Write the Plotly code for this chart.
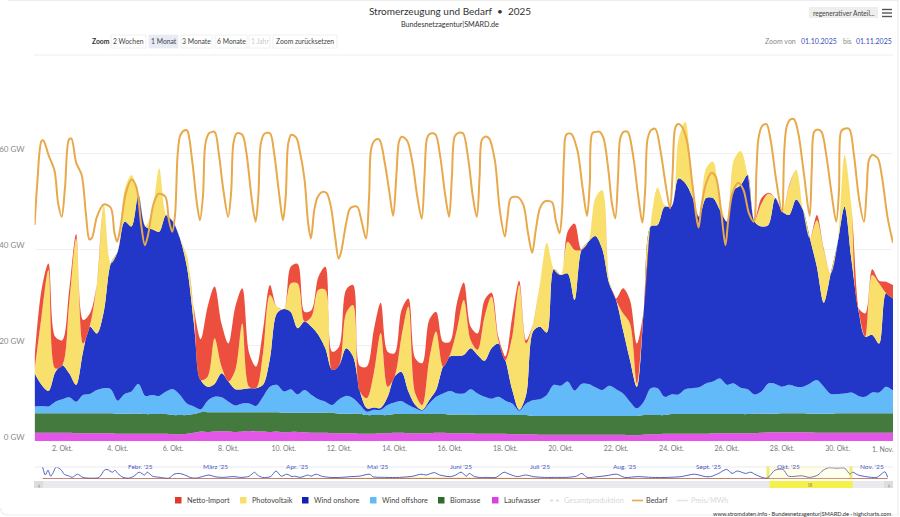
import pandas as pd
import plotly.graph_objects as go

FONT = "Lato"
W, H = 900, 517

# values, GW, one row per day at 00, 06, 12, 18 h
laufwasser = [
    1.7, 1.7, 1.7, 1.7, 1.7, 1.7, 1.6, 1.6, 1.6, 1.6, 1.6, 1.6, 1.5, 1.5, 1.5, 1.5,
    1.5, 1.5, 1.5, 1.5, 1.4, 1.4, 1.5, 1.7, 2.0, 1.9, 2.0, 2.0, 2.0, 1.9, 2.0, 2.1,
    2.0, 2.0, 1.9, 2.0, 1.8, 1.9, 1.9, 1.8, 1.7, 1.7, 1.7, 1.6, 1.6, 1.6, 1.6, 1.5,
    1.5, 1.5, 1.6, 1.6, 1.7, 1.7, 1.6, 1.6, 1.6, 1.6, 1.7, 1.7, 1.6, 1.6, 1.6, 1.6,
    1.5, 1.5, 1.5, 1.5, 1.5, 1.4, 1.4, 1.4, 1.4, 1.3, 1.3, 1.3, 1.3, 1.3, 1.3, 1.3,
    1.3, 1.3, 1.3, 1.3, 1.3, 1.3, 1.2, 1.2, 1.3, 1.4, 1.4, 1.5, 1.5, 1.5, 1.5, 1.5,
    1.5, 1.5, 1.6, 1.6, 1.6, 1.6, 1.6, 1.6, 1.6, 1.7, 1.8, 1.8, 1.8, 1.8, 1.8, 1.8,
    1.8, 1.7, 1.7, 1.7, 1.7, 1.7, 1.7, 1.7, 1.7, 1.7, 1.7, 1.7, 1.7,
]
biomasse = [
    4.1, 4.1, 4.1, 4.1, 4.1, 4.1, 4.2, 4.2, 4.2, 4.2, 4.2, 4.2, 4.2, 4.2, 4.2, 4.2,
    4.1, 4.1, 4.1, 4.1, 4.0, 4.0, 3.9, 3.9, 4.0, 4.1, 4.0, 4.0, 4.0, 4.1, 4.0, 3.9,
    4.0, 4.0, 4.1, 4.0, 4.1, 4.0, 4.0, 4.1, 4.2, 4.2, 4.2, 4.3, 4.1, 4.1, 4.1, 4.2,
    3.9, 3.9, 3.8, 3.8, 3.9, 3.9, 4.0, 4.0, 4.0, 4.0, 3.9, 3.9, 3.9, 3.9, 3.9, 3.9,
    3.9, 3.9, 3.9, 3.9, 3.9, 4.0, 4.0, 4.0, 3.8, 3.9, 3.9, 3.9, 3.9, 3.9, 3.9, 3.9,
    3.9, 3.9, 3.9, 3.9, 3.9, 3.9, 4.0, 4.0, 4.1, 4.0, 4.0, 3.9, 4.1, 4.1, 4.1, 4.1,
    4.1, 4.1, 4.0, 4.0, 4.0, 4.0, 4.0, 4.0, 4.1, 4.0, 3.9, 3.9, 4.0, 4.0, 4.0, 4.0,
    3.9, 4.0, 4.0, 4.0, 4.1, 4.1, 4.1, 4.1, 4.1, 4.1, 4.1, 4.1, 4.1,
]
wind_offshore = [
    1.4, 1.5, 1.4, 2.4, 2.9, 3.3, 2.4, 3.8, 4.0, 4.8, 5.2, 5.0, 2.7, 4.1, 4.6, 6.2,
    3.8, 4.0, 3.8, 4.7, 5.4, 4.2, 2.4, 1.6, 0.6, 2.4, 3.2, 3.1, 2.2, 1.4, 1.8, 1.8,
    1.3, 3.2, 5.3, 5.7, 4.4, 4.9, 3.8, 4.7, 3.7, 2.8, 2.3, 1.6, 3.0, 3.7, 3.2, 1.8,
    0.7, 1.1, 1.1, 2.1, 2.4, 2.7, 1.9, 1.2, 0.7, 2.2, 3.6, 4.3, 4.9, 4.4, 4.4, 5.3,
    4.5, 3.8, 3.4, 3.8, 3.0, 2.4, 0.9, 2.4, 3.3, 3.5, 4.4, 6.5, 6.3, 7.2, 5.3, 6.7,
    6.7, 6.0, 5.4, 6.3, 5.6, 4.7, 3.0, 1.6, 2.8, 5.6, 5.6, 3.8, 4.1, 4.1, 5.2, 5.4,
    5.6, 6.4, 6.8, 7.4, 6.1, 6.4, 5.5, 5.2, 4.0, 4.6, 6.3, 6.2, 5.5, 5.9, 5.5, 5.5,
    6.3, 7.0, 5.6, 4.1, 4.0, 4.1, 4.3, 3.6, 3.4, 4.3, 4.3, 5.5, 4.7,
]
wind_onshore = [
    6.9, 4.4, 3.2, 6.2, 7.1, 5.0, 3.5, 9.0, 14.0, 11.8, 16.0, 26.2, 31.0, 35.9, 34.4, 39.4,
    35.3, 34.5, 34.2, 36.8, 34.9, 32.6, 28.5, 17.5, 6.1, 2.9, 2.7, 5.0, 4.2, 3.4, 3.0, 3.2,
    3.7, 2.5, 5.9, 14.9, 17.2, 16.1, 13.8, 14.3, 14.2, 13.4, 11.1, 7.3, 7.1, 9.9, 8.7, 2.8,
    0.7, 0.5, 0.4, 1.7, 5.4, 6.1, 2.8, 0.7, 0.2, 0.7, 1.4, 5.6, 7.2, 7.8, 8.0, 8.5,
    8.0, 7.5, 10.5, 11.1, 8.5, 2.8, 0.2, 1.8, 14.3, 15.1, 13.0, 24.1, 23.1, 22.5, 18.9, 27.9,
    29.6, 31.5, 29.4, 21.3, 18.6, 13.2, 8.7, 4.5, 19.1, 33.7, 34.0, 39.6, 39.1, 45.0, 42.9, 39.9,
    35.5, 38.6, 38.2, 35.1, 34.0, 40.3, 42.2, 44.6, 36.0, 34.4, 33.0, 38.7, 36.5, 35.4, 39.0, 36.8,
    30.2, 23.6, 17.5, 25.1, 31.4, 38.9, 27.6, 17.9, 12.5, 12.0, 10.2, 19.5, 19.2,
]
photovoltaik = [
    0.7, 14.2, 25.2, 0.7, 0.0, 14.6, 30.5, 1.7, 0.3, 10.4, 22.2, 0.0, 0.0, 6.6, 10.7, 0.0,
    0.0, 4.0, 13.2, 0.0, 0.0, 0.0, 2.1, 2.5, 0.0, 2.1, 9.5, 1.4, 0.0, 4.0, 13.7, 0.3,
    0.0, 6.6, 13.2, 1.4, 0.0, 5.9, 9.3, 0.0, 2.1, 9.4, 12.2, 0.0, 0.0, 7.3, 10.7, 0.0,
    2.1, 7.1, 15.6, 2.1, 0.0, 7.3, 17.7, 2.4, 1.0, 8.4, 12.2, 0.0, 0.3, 5.4, 11.5, 1.7,
    1.1, 9.2, 10.8, 0.7, 0.0, 11.1, 26.0, 10.7, 1.7, 9.0, 18.7, 0.0, 0.0, 6.6, 10.4, 0.0,
    0.0, 7.9, 12.3, 0.7, 0.0, 3.5, 7.6, 0.7, 0.0, 0.6, 7.8, 0.4, 0.0, 8.0, 12.8, 2.8,
    0.0, 6.2, 7.6, 2.0, 0.0, 6.2, 7.1, 0.0, 0.3, 4.8, 6.5, 0.0, 0.3, 5.9, 6.2, 0.0,
    0.0, 9.7, 11.0, 0.0, 0.0, 10.8, 11.1, 0.3, 0.0, 12.5, 12.5, 0.0, 0.0,
]
netto_import = [
    2.8, 5.6, 1.4, 6.6, 5.2, 2.8, 0.9, 4.9, 2.5, 0.0, 0.0, 0.0, 0.0, 0.0, 0.0, 0.0,
    0.0, 0.0, 0.0, 0.0, 0.0, 0.0, 0.1, 0.5, 8.5, 14.6, 10.8, 9.0, 7.9, 13.2, 7.3, 7.0,
    4.5, 4.8, 2.1, 0.0, 0.0, 3.5, 4.1, 2.0, 1.4, 2.7, 4.8, 3.8, 3.9, 4.9, 4.2, 5.3,
    6.6, 9.0, 6.3, 7.3, 4.9, 5.6, 1.7, 7.3, 8.7, 8.3, 4.1, 5.2, 2.8, 5.6, 3.6, 2.8,
    3.4, 3.5, 0.8, 0.7, 0.7, 4.2, 0.9, 0.7, 0.0, 0.0, 0.0, 0.0, 0.0, 2.1, 5.5, 0.0,
    0.0, 0.0, 0.0, 0.0, 0.3, 5.2, 4.9, 8.3, 0.0, 0.0, 0.0, 0.0, 0.0, 0.0, 0.0, 0.0,
    0.0, 0.0, 0.0, 0.0, 0.0, 0.0, 0.0, 0.0, 0.0, 1.1, 0.2, 0.0, 0.0, 0.3, 0.0, 0.0,
    0.0, 1.1, 0.3, 0.0, 0.0, 0.0, 0.0, 0.2, 4.9, 1.2, 0.6, 2.4, 2.8,
]

# demand has its own knots, days since 1 Oct
bedarf_tage = [
    0.0, 0.1, 0.25, 0.32, 0.5, 0.72, 0.85, 0.98, 1.1, 1.24, 1.33, 1.5, 1.7, 1.85, 1.98,
    2.07, 2.25, 2.5, 2.75, 2.88, 2.98, 3.1, 3.3, 3.5, 3.67, 3.85, 3.98, 4.1, 4.3, 4.48,
    4.72, 4.85, 4.97, 5.07, 5.17, 5.27, 5.45, 5.52, 5.7, 5.85, 5.97, 6.08, 6.17, 6.3, 6.5,
    6.65, 6.8, 6.99, 7.1, 7.18, 7.3, 7.5, 7.65, 7.85, 7.98, 8.08, 8.17, 8.3, 8.5, 8.65,
    8.82, 8.97, 9.07, 9.16, 9.27, 9.45, 9.58, 9.75, 9.88, 9.98, 10.1, 10.22, 10.4, 10.55, 10.7,
    10.85, 10.98, 11.07, 11.25, 11.4, 11.65, 11.8, 11.97, 12.08, 12.16, 12.3, 12.45, 12.65, 12.8, 12.95,
    13.07, 13.16, 13.26, 13.45, 13.65, 13.82, 13.98, 14.08, 14.17, 14.27, 14.47, 14.65, 14.82, 14.97, 15.07,
    15.17, 15.3, 15.47, 15.65, 15.82, 15.97, 16.07, 16.15, 16.27, 16.42, 16.62, 16.8, 16.98, 17.08, 17.2,
    17.45, 17.65, 17.82, 17.97, 18.1, 18.25, 18.42, 18.68, 18.82, 18.96, 19.05, 19.12, 19.2, 19.38, 19.6,
    19.8, 19.95, 20.05, 20.14, 20.27, 20.41, 20.55, 20.72, 20.85, 20.97, 21.07, 21.15, 21.27, 21.42, 21.6,
    21.8, 21.95, 22.05, 22.14, 22.27, 22.42, 22.6, 22.8, 22.95, 23.04, 23.13, 23.22, 23.35, 23.55, 23.75,
    23.9, 23.98, 24.08, 24.25, 24.45, 24.6, 24.8, 24.95, 25.05, 25.2, 25.42, 25.6, 25.8, 25.97, 26.07,
    26.14, 26.27, 26.43, 26.58, 26.78, 26.99, 27.07, 27.16, 27.3, 27.43, 27.58, 27.78, 27.99, 28.07, 28.15,
    28.28, 28.42, 28.6, 28.78, 28.95, 29.05, 29.12, 29.22, 29.42, 29.58, 29.78, 29.95, 30.05, 30.13, 30.25,
    30.45, 30.6, 30.8, 31.0,
]
bedarf = [
    45.0, 54.0, 62.5, 62.6, 59.6, 56.3, 49.5, 46.7, 53.0, 62.8, 63.0, 58.0, 55.4, 47.5, 42.0,
    42.3, 46.7, 49.3, 48.6, 43.5, 41.5, 44.5, 51.8, 54.5, 53.0, 45.0, 40.8, 43.0, 49.5, 51.5,
    50.9, 46.0, 43.6, 47.0, 60.0, 63.8, 64.8, 64.6, 58.0, 50.0, 46.0, 51.0, 62.0, 64.1, 64.4,
    60.0, 53.0, 46.7, 52.0, 62.0, 64.1, 63.8, 60.0, 50.0, 45.7, 51.0, 62.0, 64.0, 64.1, 60.0,
    52.0, 46.0, 51.0, 62.0, 63.8, 63.2, 60.3, 54.4, 45.3, 42.2, 48.1, 50.8, 51.9, 51.6, 48.8,
    42.6, 38.0, 39.4, 45.3, 48.5, 48.8, 46.0, 42.2, 50.9, 61.0, 62.7, 62.8, 57.8, 52.3, 46.9,
    55.8, 62.4, 63.4, 62.6, 57.8, 50.9, 46.3, 55.0, 63.0, 64.0, 63.9, 59.2, 51.6, 46.7, 55.0,
    63.4, 64.2, 64.1, 59.2, 51.2, 46.7, 55.0, 62.7, 63.4, 63.0, 58.5, 48.1, 42.6, 46.7, 50.6,
    50.8, 49.2, 43.3, 39.2, 44.0, 48.5, 49.9, 49.8, 46.0, 43.3, 48.1, 59.2, 63.8, 64.0, 60.6,
    52.3, 46.9, 53.7, 64.1, 64.4, 64.4, 63.0, 56.5, 49.5, 46.4, 55.0, 63.0, 64.4, 64.4, 60.0,
    50.9, 45.5, 52.3, 63.0, 64.8, 65.0, 60.6, 53.0, 48.5, 55.8, 65.1, 66.0, 65.7, 62.7, 53.7,
    46.7, 44.5, 48.8, 53.7, 55.9, 55.0, 47.4, 40.8, 46.0, 51.6, 53.8, 52.3, 47.4, 45.7, 56.5,
    63.0, 65.6, 66.0, 62.7, 54.4, 47.8, 60.0, 65.5, 67.0, 67.0, 64.1, 55.8, 46.9, 57.2, 64.4,
    64.9, 64.4, 59.2, 51.6, 45.7, 52.3, 64.4, 65.0, 65.0, 60.0, 50.2, 45.7, 52.3, 58.5, 59.6,
    58.9, 55.1, 46.7, 41.3,
]

# navigator overview, days since 1 Jan
nav_tage = [
    2, 3, 4, 5, 6, 7, 9, 10, 12, 13, 15, 17, 20, 23, 25, 26, 28, 29, 30, 32,
    34, 36, 38, 40, 41, 43, 46, 49, 51, 53, 55, 57, 59, 62, 64, 66, 69, 73, 76, 79,
    81, 82, 84, 87, 89, 91, 93, 95, 96, 98, 101, 102, 104, 106, 109, 113, 117, 120, 124, 125,
    130, 135, 140, 143, 145, 148, 150, 154, 156, 158, 160, 161, 163, 165, 168, 171, 174, 176, 179, 182,
    185, 189, 194, 197, 201, 203, 205, 209, 212, 216, 219, 224, 229, 235, 240, 245, 249, 251, 254, 257,
    259, 261, 264, 266, 268, 272, 275, 278, 280, 285, 288, 291, 293, 295, 298, 301, 303, 304, 306, 311,
    313, 316, 317,
]
nav_wind = [
    60, 20, 44, 14, 34, 60, 44, 24, 14, 8, 24, 8, 4, 8, 44, 48, 34, 44, 28, 8,
    4, 14, 34, 20, 34, 14, 8, 4, 24, 28, 20, 8, 4, 14, 20, 12, 8, 12, 8, 14,
    34, 20, 8, 12, 40, 14, 24, 12, 14, 8, 20, 14, 24, 14, 8, 8, 12, 14, 24, 12,
    8, 8, 14, 24, 20, 32, 20, 12, 20, 34, 14, 28, 12, 8, 8, 8, 34, 24, 12, 20,
    12, 8, 8, 8, 14, 28, 8, 12, 16, 24, 8, 12, 8, 8, 12, 24, 12, 12, 28, 48,
    28, 40, 28, 34, 20, 4, 44, 48, 14, 16, 8, 20, 44, 56, 54, 54, 24, 34, 20, 8,
    8, 36, 8,
]
nav_pv_tage = [90, 120, 140, 170, 200, 240, 260]
nav_pv = [3, 6, 9, 7, 6, 6, 3]
nav_basis_tage = [2, 317]
nav_basis = [1, 1]

tick_tage = ["2. Okt.", "4. Okt.", "6. Okt.", "8. Okt.", "10. Okt.", "12. Okt.", "14. Okt.", "16. Okt.",
             "18. Okt.", "20. Okt.", "22. Okt.", "24. Okt.", "26. Okt.", "28. Okt.", "30. Okt."]
monate = [("2025-02-01", "Febr. '25"), ("2025-03-01", "März '25"), ("2025-04-01", "Apr. '25"),
          ("2025-05-01", "Mai '25"), ("2025-06-01", "Juni '25"), ("2025-07-01", "Juli '25"),
          ("2025-08-01", "Aug. '25"), ("2025-09-01", "Sept. '25"), ("2025-10-01", "Okt. '25"),
          ("2025-11-01", "Nov. '25")]
zoom_buttons = [("2 Wochen", 111, 146), ("1 Monat", 149, 178), ("3 Monate", 181, 212),
                ("6 Monate", 215, 247), ("1 Jahr", 249, 270), ("Zoom zurücksetzen", 273, 337)]
legend_eintraege = [("Netto-Import", 175, "box", "#E03A2E"), ("Photovoltaik", 240, "box", "#F8E06A"),
                    ("Wind onshore", 302, "box", "#1520B0"), ("Wind offshore", 370, "box", "#62BBF8"),
                    ("Biomasse", 438, "box", "#2F6B2A"), ("Laufwasser", 492, "box", "#DD40E0"),
                    ("Gesamtproduktion", 550, "dots", "#DDDDDD"), ("Bedarf", 632, "line", "#E8A94A"),
                    ("Preis/MWh", 677, "line", "#E4E4E4")]

okt = pd.Timestamp("2025-10-01")
jan = pd.Timestamp("2025-01-01")
zeit = [okt + pd.Timedelta(hours=6 * i) for i in range(len(laufwasser))]
ticks = [okt + pd.Timedelta(days=1 + 2 * i) for i in range(len(tick_tage))]


def days(start, values):
    return [start + pd.Timedelta(days=v) for v in values]


def px(x):
    return x / W


def py(y):
    return 1 - y / H


fig = go.Figure()

stack = [
    ("Laufwasser", laufwasser, "#E356E8"),
    ("Biomasse", biomasse, "#457A3E"),
    ("Wind offshore", wind_offshore, "#62BBF8"),
    ("Wind onshore", wind_onshore, "#2236C8"),
    ("Photovoltaik", photovoltaik, "#F9E06C"),
    ("Netto-Import", netto_import, "#EC4F3E"),
]
for name, values, color in stack:
    fig.add_trace(go.Scatter(
        x=zeit, y=values, name=name, stackgroup="strom", mode="lines",
        line=dict(width=0, color=color, shape="spline", smoothing=0.9),
        fillcolor=color, showlegend=False,
    ))

fig.add_trace(go.Scatter(
    x=days(okt, bedarf_tage), y=bedarf, name="Bedarf", mode="lines",
    line=dict(width=2, color="#E8A94A", shape="spline", smoothing=0.9), showlegend=False,
))

# navigator
fig.add_trace(go.Scatter(
    x=days(jan, nav_pv_tage), y=nav_pv, xaxis="x2", yaxis="y2", mode="lines", showlegend=False,
    line=dict(width=0.5, color="#FBEFB0"), fill="tozeroy", fillcolor="#FBEFB0", hoverinfo="skip",
))
fig.add_trace(go.Scatter(
    x=days(jan, nav_tage), y=nav_wind, xaxis="x2", yaxis="y2", mode="lines", showlegend=False,
    line=dict(width=1, color="#5661C4", shape="spline", smoothing=0.8), hoverinfo="skip",
))
fig.add_trace(go.Scatter(
    x=days(jan, nav_basis_tage), y=nav_basis, xaxis="x2", yaxis="y2", mode="lines", showlegend=False,
    line=dict(width=1, color="#A8503C"), hoverinfo="skip",
))

annotations = []


def label(x, y, text, size=8, color="#555555", anchor="center", **kw):
    annotations.append(dict(
        x=px(x), y=py(y), xref="paper", yref="paper", text=text, showarrow=False,
        xanchor=anchor, yanchor="middle", font=dict(family=FONT, size=size, color=color),
        borderpad=0, **kw,
    ))


shapes = []


def rect(x0, y0, x1, y1, fill, line="rgba(0,0,0,0)", width=0):
    shapes.append(dict(type="rect", xref="paper", yref="paper", x0=px(x0), x1=px(x1), y0=py(y0), y1=py(y1),
                       fillcolor=fill, line=dict(color=line, width=width), layer="below"))


def hline(x0, x1, y, color, width=1, dash="solid"):
    shapes.append(dict(type="line", xref="paper", yref="paper", x0=px(x0), x1=px(x1), y0=py(y), y1=py(y),
                       line=dict(color=color, width=width, dash=dash)))


# header
label(450, 24, "Bundesnetzagentur|SMARD.de", size=7.2, color="#333333")
label(91, 41, "<b>Zoom</b>", size=6.8, color="#333333", anchor="left")
for text, x0, x1 in zoom_buttons:
    selected = text == "1 Monat"
    disabled = text == "1 Jahr"
    rect(x0, 35, x1, 48, "#E6EBF5" if selected else "#FFFFFF", "#ECECEC", 0.8)
    label((x0 + x1) / 2, 41.5, text, size=6.8, color="#CCCCCC" if disabled else "#444444")
label(764, 41, "Zoom von", size=7, color="#888888", anchor="left")
label(800, 41, "01.10.2025", size=7, color="#3A50B8", anchor="left")
label(842, 41, "bis", size=7, color="#888888", anchor="left")
label(855, 41, "01.11.2025", size=7, color="#3A50B8", anchor="left")
rect(809, 7, 878, 18, "#EEEEEE")
label(843.5, 12.5, "regenerativer Anteil...", size=6.6, color="#444444")
for y in (9.5, 13, 16.5):
    hline(882, 892, y, "#555555", 1.4)
hline(34, 893, 55, "#EEEEEE")

# navigator frame and scrollbar
hline(34.6, 893, 467, "#E6E6EE", 0.8)
rect(34, 481, 893, 488, "#ECE9EE")
rect(34, 481, 43, 488, "#DDDDDD")
rect(884, 481, 893, 488, "#DDDDDD")
label(38.5, 484.5, "‹", size=7, color="#555555")
label(888.5, 484.5, "›", size=7, color="#555555")
shapes.append(dict(type="rect", xref="x2", yref="paper", x0=okt, x1=pd.Timestamp("2025-11-01"),
                   y0=py(480), y1=py(466), fillcolor="rgba(255,247,120,0.15)", line=dict(width=0)))
shapes.append(dict(type="rect", xref="x2", yref="paper", x0=okt, x1=pd.Timestamp("2025-11-01"),
                   y0=py(488), y1=py(481), fillcolor="#F6F04A", line=dict(width=0)))
label(809.5, 484.5, "III", size=5, color="#777777")
for x in (768, 851):
    rect(x - 1.5, 466, x + 1.5, 478, "#F0E96A")
for date, text in monate:
    annotations.append(dict(
        x=pd.Timestamp(date) + pd.Timedelta(days=2), y=py(466.5), xref="x2", yref="paper", text=text,
        showarrow=False, xanchor="left", yanchor="middle",
        font=dict(family=FONT, size=6.5, color="#4A5BC0"),
    ))

# legend, drawn by hand so the swatches stay small like the reference
for text, x, kind, color in legend_eintraege:
    hidden = kind == "dots" or text == "Preis/MWh"
    if kind == "box":
        rect(x, 497, x + 6.5, 503.5, color)
    elif kind == "dots":
        hline(x, x + 10, 500.5, color, 2, "dot")
    else:
        hline(x, x + 11, 500.5, color, 1.6)
    tx = x + (11 if kind == "box" else 13)
    label(tx, 500.5, text, size=7.3, color="#D8D8D8" if hidden else "#444444", anchor="left")

label(883, 449, "1. Nov.", size=7, color="#777777")
label(893, 513, "www.stromdaten.info · Bundesnetzagentur|SMARD.de · highcharts.com", size=5.7, color="#333333", anchor="right")

# card outline
shapes.append(dict(
    type="path", xref="paper", yref="paper", layer="below",
    path=f"M {px(8)} {py(0.5)} L {px(898)} {py(0.5)} L {px(898)} {py(515)} L {px(8)} {py(515)} Q {px(1)} {py(515)} {px(0.5)} {py(508)}",
    line=dict(color="#EDEDED", width=1.2),
))

fig.update_layout(
    width=W,
    height=H,
    autosize=False,
    margin=dict(l=0, r=0, t=0, b=0, autoexpand=False),
    paper_bgcolor="white",
    plot_bgcolor="white",
    showlegend=False,
    font=dict(family=FONT, size=8, color="#555555"),
    title=dict(
        text="Stromerzeugung und Bedarf  •  2025", x=0.5, xanchor="center", y=1 - 11 / H, yanchor="middle",
        font=dict(family=FONT, size=10, color="#333333"),
    ),
    hovermode="x",
    xaxis=dict(
        domain=[px(34.6), px(893)], range=[okt, pd.Timestamp("2025-11-01")], type="date",
        tickvals=ticks, ticktext=tick_tage, showgrid=False, zeroline=False, showline=False, ticks="",
        tickfont=dict(family=FONT, size=7, color="#777777"), ticklabelstandoff=2, automargin=False,
    ),
    yaxis=dict(
        domain=[py(441), py(55)], range=[0, 386 / 4.8], anchor="x",
        tickvals=[0, 20, 40, 60], ticktext=["0 GW", "20 GW", "40 GW", "60 GW"],
        showgrid=True, gridcolor="#F1F1F1", gridwidth=1, zeroline=False, showline=False, ticks="",
        tickfont=dict(family=FONT, size=8, color="#888888"), ticklabelshift=-4, ticklabelstandoff=9, automargin=False,
    ),
    xaxis2=dict(
        domain=[px(34.6), px(893)], range=[jan - pd.Timedelta(days=1), jan + pd.Timedelta(days=319)], type="date",
        anchor="y2", showticklabels=False, showgrid=False, zeroline=False, showline=False, ticks="",
    ),
    yaxis2=dict(
        domain=[py(479), py(467)], range=[0, 60], anchor="x2",
        showticklabels=False, showgrid=False, zeroline=False, showline=False, ticks="",
    ),
    shapes=shapes,
    annotations=annotations,
)

fig.write_html("out.html", config={"displayModeBar": False}, post_script="document.body.style.margin='0';")
